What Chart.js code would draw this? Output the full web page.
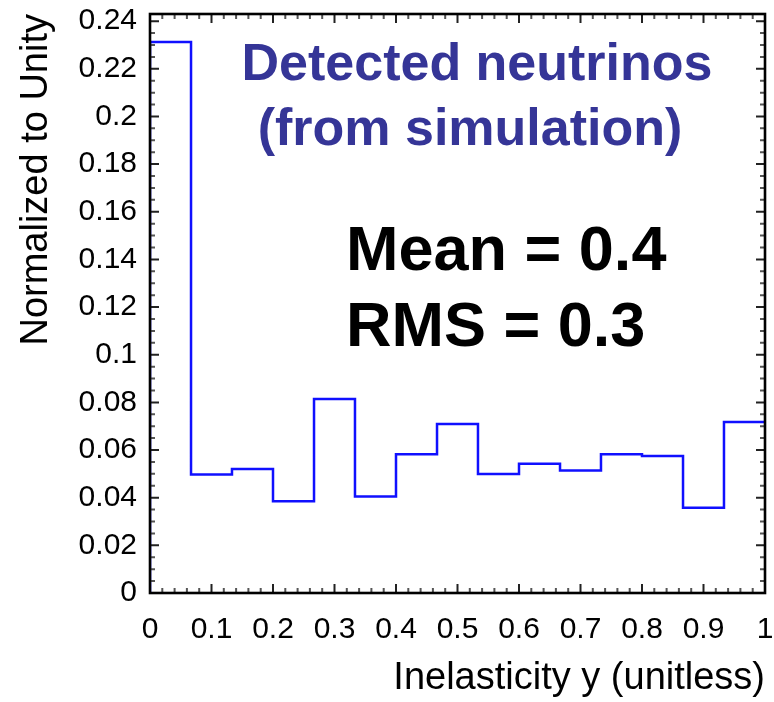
<!DOCTYPE html>
<html>
<head>
<meta charset="utf-8">
<script src="https://cdn.jsdelivr.net/npm/chart.js@4.4.1/dist/chart.umd.min.js"></script>
<style>
  html, body { margin: 0; padding: 0; background: #ffffff; }
  #wrap { width: 774px; height: 702px; }
</style>
</head>
<body>
<div id="wrap"><canvas id="c" width="774" height="702"></canvas></div>
<script>
// ---- data ----
const binEdges = [0, 0.0667, 0.1333, 0.2, 0.2667, 0.3333, 0.4, 0.4667, 0.5333, 0.6, 0.6667, 0.7333, 0.8, 0.8667, 0.9333, 1.0];
const binFractions = [0.2312, 0.0497, 0.0520, 0.0385, 0.0814, 0.0405, 0.0582, 0.0709, 0.0499, 0.0542, 0.0514, 0.0582, 0.0575, 0.0358, 0.0718];
const xTickValues = [0, 0.1, 0.2, 0.3, 0.4, 0.5, 0.6, 0.7, 0.8, 0.9, 1];
const yTickValues = [0, 0.02, 0.04, 0.06, 0.08, 0.1, 0.12, 0.14, 0.16, 0.18, 0.2, 0.22, 0.24];
const xTitle = 'Inelasticity y (unitless)';
const yTitle = 'Normalized to Unity';
const titleLines = ['Detected neutrinos', '(from simulation)'];
const statLines = ['Mean = 0.4', 'RMS = 0.3'];

// histogram outline points: each bin's value held from its lower edge to the next edge
const stepPoints = [{x: binEdges[0], y: 0}];
for (let i = 0; i < binFractions.length; i++) {
  stepPoints.push({x: binEdges[i], y: binFractions[i]});
}
stepPoints.push({x: binEdges[binEdges.length - 1], y: binFractions[binFractions.length - 1]});

const FONT = '"Liberation Sans", Arial, Helvetica, sans-serif';

const framePlugin = {
  id: 'frameTicks',
  afterDatasetsDraw(chart) {
    const ctx = chart.ctx;
    const a = chart.chartArea;
    const xs = chart.scales.x, ys = chart.scales.y;
    ctx.save();
    ctx.lineWidth = 2;
    const majorLen = 9, minorLen = 5;
    for (let k = 0; k <= 50; k++) {
      const v = k / 50;
      const px = xs.getPixelForValue(v);
      const major = (k % 5 === 0);
      const len = major ? majorLen : minorLen;
      ctx.strokeStyle = major ? '#222' : '#555';
      ctx.beginPath();
      ctx.moveTo(px, a.bottom); ctx.lineTo(px, a.bottom - len);
      ctx.moveTo(px, a.top); ctx.lineTo(px, a.top + len);
      ctx.stroke();
    }
    for (let k = 0; k <= 48; k++) {
      const v = k * 0.005;
      const py = ys.getPixelForValue(v);
      const major = (k % 4 === 0);
      const len = major ? majorLen : minorLen;
      ctx.strokeStyle = major ? '#222' : '#555';
      ctx.beginPath();
      ctx.moveTo(a.left, py); ctx.lineTo(a.left + len, py);
      ctx.moveTo(a.right, py); ctx.lineTo(a.right - len, py);
      ctx.stroke();
    }
    ctx.strokeStyle = '#000';
    ctx.lineWidth = 2.6;
    ctx.strokeRect(a.left, a.top, a.right - a.left, a.bottom - a.top);

    ctx.textAlign = 'center';
    ctx.textBaseline = 'alphabetic';
    ctx.fillStyle = '#353597';
    ctx.font = 'bold 52px ' + FONT;
    ctx.fillText(titleLines[0], 477, 80);
    ctx.fillText(titleLines[1], 470, 145);
    ctx.textAlign = 'left';
    ctx.fillStyle = '#000';
    ctx.font = 'bold 63px ' + FONT;
    ctx.fillText(statLines[0], 346, 270);
    ctx.fillText(statLines[1], 346, 346);
    ctx.restore();
  }
};

const fmt = v => String(+(+v).toFixed(2));

new Chart(document.getElementById('c'), {
  type: 'line',
  data: {
    datasets: [{
      data: stepPoints,
      stepped: 'before',
      borderColor: '#1010ff',
      borderWidth: 2.5,
      pointRadius: 0,
      fill: false,
      tension: 0
    }]
  },
  options: {
    responsive: false,
    animation: false,
    events: [],
    layout: { padding: { left: 0, right: 9, top: 14, bottom: 0 } },
    plugins: { legend: { display: false }, tooltip: { enabled: false } },
    scales: {
      x: {
        type: 'linear',
        min: 0, max: 1,
        afterBuildTicks: s => { s.ticks = xTickValues.map(v => ({value: v})); },
        afterFit: s => { s.height = 109; s.paddingLeft = 0; s.paddingRight = 0; },
        grid: { display: false, drawTicks: false },
        border: { display: false },
        ticks: {
          padding: 19,
          maxRotation: 0,
          autoSkip: false,
          color: '#000',
          font: { family: FONT, size: 30 },
          callback: v => fmt(v)
        },
        title: {
          display: true,
          text: xTitle,
          align: 'end',
          color: '#000',
          font: { family: FONT, size: 38 },
          padding: { top: 0, bottom: 1 }
        }
      },
      y: {
        type: 'linear',
        min: 0, max: 0.243,
        afterBuildTicks: s => { s.ticks = yTickValues.map(v => ({value: v})); },
        afterFit: s => { s.width = 150; s.paddingTop = 0; s.paddingBottom = 0; },
        grid: { display: false, drawTicks: false },
        border: { display: false },
        ticks: {
          padding: 13,
          autoSkip: false,
          color: '#000',
          font: { family: FONT, size: 30 },
          callback: v => fmt(v)
        },
        title: {
          display: true,
          text: yTitle,
          align: 'end',
          color: '#000',
          font: { family: FONT, size: 38 },
          padding: { top: 14, bottom: 0 }
        }
      }
    }
  },
  plugins: [framePlugin]
});
</script>
</body>
</html>
